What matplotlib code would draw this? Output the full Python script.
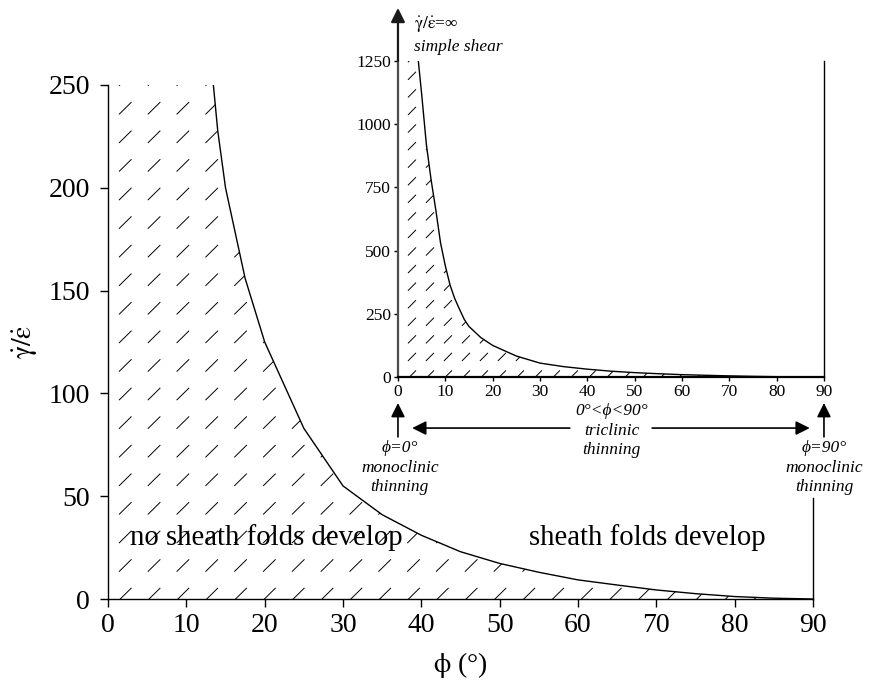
import numpy as np
import matplotlib
matplotlib.use('Agg')
import matplotlib.pyplot as plt
from matplotlib.collections import LineCollection
from matplotlib.path import Path

plt.rcParams['font.family'] = ['Liberation Serif', 'DejaVu Serif']
plt.rcParams['mathtext.fontset'] = 'stix'

# critical shear-to-stretch ratio vs. angle phi
phi = [4.3, 5, 6, 7, 8, 9, 10, 11, 12, 13, 14, 15, 17.5, 20, 25, 30, 35,
       40, 45, 50, 55, 60, 65, 70, 75, 80, 85, 90]
ratio = [1250, 1120, 920, 780, 660, 530, 440, 364, 310, 268, 228, 200, 156,
         125, 83, 55, 41, 31, 23, 17.3, 13, 9.3, 6.8, 4.4, 2.6, 1.2, 0.4, 0]

x_ticks = [0, 10, 20, 30, 40, 50, 60, 70, 80, 90]
main_yticks = [0, 50, 100, 150, 200, 250]
inset_yticks = [0, 250, 500, 750, 1000, 1250]

# region left of / below the curve
region = Path([(0, 0), (0, ratio[0])] + list(zip(phi, ratio)) + [(90, 0), (0, 0)],
              closed=True)


def dash_hatch(ax, x0, sx, y0, sy, hx, hy, ymax):
    xs = np.arange(x0, 92, sx)
    ys = np.arange(y0, ymax, sy)
    segs = [[(x - hx, y - hy), (x + hx, y + hy)] for x in xs for y in ys]
    lc = LineCollection(segs, colors='black', linewidths=0.7)
    ax.add_collection(lc, autolim=False)
    lc.set_clip_path(region, ax.transData)


arrow_kw = dict(arrowstyle='-|>,head_length=0.6,head_width=0.3',
                color='black', lw=1.2, mutation_scale=14, shrinkA=0, shrinkB=0)

fig = plt.figure(figsize=(8.76, 6.81), dpi=100)

# main plot
ax = fig.add_axes([0.1233, 0.1204, 0.8048, 0.7548])
ax.plot(phi, ratio, color='black', lw=1.0)
dash_hatch(ax, 2.2, 3.68, 2.4, 13.9, 0.8, 3.0, 260)
ax.plot([90, 90], [0, 49], color='black', lw=1.0, clip_on=False)
ax.set_xlim(0, 90)
ax.set_ylim(0, 250)
ax.set_xticks(x_ticks)
ax.set_yticks(main_yticks)
for s in ['top', 'right']:
    ax.spines[s].set_visible(False)
for s in ['left', 'bottom']:
    ax.spines[s].set_linewidth(1.0)
ax.tick_params(direction='out', length=6, width=1, labelsize=20)
ax.tick_params(axis='y', pad=7)
ax.tick_params(axis='x', pad=4)
ax.set_xlabel(r'$\mathrm{\phi}$ (°)', fontsize=20, labelpad=9)
ax.set_ylabel(r'$\mathrm{\dot{\gamma}/\dot{\varepsilon}}$', fontsize=20, labelpad=6)
ax.text(20.2, 26.3, 'no sheath folds develop', fontsize=20.7, ha='center', va='baseline')
ax.text(68.9, 26.3, 'sheath folds develop', fontsize=20.7, ha='center', va='baseline')

# inset
axi = fig.add_axes([0.4543, 0.4464, 0.4863, 0.4640])
axi.patch.set_alpha(0)
axi.plot(phi, ratio, color='black', lw=1.0)
dash_hatch(axi, 2.96, 3.8, 10, 69.5, 0.85, 16, 1300)
axi.set_xlim(0, 90)
axi.set_ylim(0, 1250)
axi.set_xticks(x_ticks)
axi.set_yticks(inset_yticks)
axi.spines['top'].set_visible(False)
axi.spines['right'].set_linewidth(1.0)
axi.spines['left'].set_linewidth(1.6)
axi.spines['left'].set_color('0.3')
axi.spines['bottom'].set_linewidth(1.6)
axi.tick_params(direction='out', length=3, width=1, labelsize=12.5, pad=2)

axi.annotate('', xy=(0, 1460), xytext=(0, 1250), annotation_clip=False,
             arrowprops=dict(arrow_kw, color='0.1', lw=1.6))
axi.text(3.4, 1396, r'$\mathrm{\dot{\gamma}/\dot{\varepsilon}}$=∞',
         fontsize=12.5, ha='left', va='center')
axi.text(3.4, 1305, 'simple shear', fontsize=12.5, style='italic',
         ha='left', va='center')

# annotations under the inset
for xa in [0, 90]:
    axi.annotate('', xy=(xa, -103), xytext=(xa, -237), annotation_clip=False,
                 arrowprops=arrow_kw)
axi.annotate('', xy=(3, -202), xytext=(36.3, -202), annotation_clip=False,
             arrowprops=arrow_kw)
axi.annotate('', xy=(87, -202), xytext=(53.7, -202), annotation_clip=False,
             arrowprops=arrow_kw)

axi.text(45.2, -134, '0°<ϕ<90°', fontsize=12.5, style='italic',
         ha='center', va='center')
axi.text(45.2, -212, 'triclinic', fontsize=12.5, style='italic', ha='center', va='center')
axi.text(45.2, -289, 'thinning', fontsize=12.5, style='italic', ha='center', va='center')

for xa, lab in [(0.4, 'ϕ=0°'), (90, 'ϕ=90°')]:
    axi.text(xa, -281, lab, fontsize=12.5, style='italic', ha='center', va='center')
    axi.text(xa, -361, 'monoclinic', fontsize=12.5, style='italic', ha='center', va='center')
    axi.text(xa, -434, 'thinning', fontsize=12.5, style='italic', ha='center', va='center')

fig.savefig('out.png', dpi=100)
